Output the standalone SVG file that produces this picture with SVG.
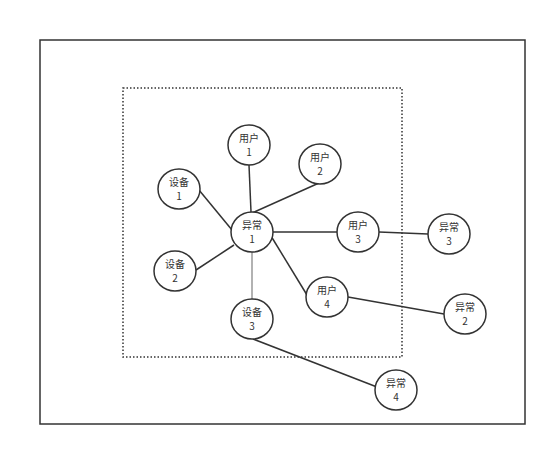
<svg xmlns="http://www.w3.org/2000/svg" width="550" height="449" viewBox="0 0 550 449">
<style>
.n ellipse{fill:#fff;stroke:#333;stroke-width:1.5}
.n text{font-family:"Noto Sans CJK SC","Noto Sans",sans-serif;font-size:10px;fill:#333;text-anchor:middle}
.e line{stroke:#333;stroke-width:1.5}
.e line.g{stroke:#999}
</style>
<rect width="550" height="449" fill="#fff"/>
<rect x="40" y="40" width="485" height="384" fill="none" stroke="#333" stroke-width="1.5"/>
<rect x="123" y="88" width="279" height="269" fill="none" stroke="#333" stroke-width="1.5" stroke-dasharray="1.5 2"/>
<g id="edges" class="e">
<line x1="249" y1="165" x2="251" y2="212"/>
<line x1="319" y1="183" x2="252" y2="213"/>
<line x1="199" y1="190" x2="232" y2="230"/>
<line x1="196" y1="270" x2="234" y2="245"/>
<line x1="273" y1="232" x2="337" y2="232"/>
<line x1="271" y1="236" x2="307" y2="295"/>
<line class="g" x1="252" y1="252" x2="252" y2="299"/>
<line x1="379" y1="232" x2="428" y2="234"/>
<line x1="348" y1="297" x2="444" y2="314"/>
<line x1="253" y1="339" x2="377" y2="387"/>
</g>
<g id="u1" class="n"><ellipse cx="249" cy="145" rx="21" ry="20"/><text x="249" y="141.5">用户<tspan x="249" dy="14.6">1</tspan></text></g>
<g id="u2" class="n"><ellipse cx="320" cy="164" rx="21" ry="20"/><text x="320" y="160.5">用户<tspan x="320" dy="14.6">2</tspan></text></g>
<g id="d1" class="n"><ellipse cx="179" cy="189" rx="21" ry="20"/><text x="179" y="185.5">设备<tspan x="179" dy="14.6">1</tspan></text></g>
<g id="a1" class="n"><ellipse cx="252" cy="232" rx="21" ry="20"/><text x="252" y="228.5">异常<tspan x="252" dy="14.6">1</tspan></text></g>
<g id="u3" class="n"><ellipse cx="358" cy="232" rx="21" ry="20"/><text x="358" y="228.5">用户<tspan x="358" dy="14.6">3</tspan></text></g>
<g id="a3" class="n"><ellipse cx="449" cy="234" rx="21" ry="20"/><text x="449" y="230.5">异常<tspan x="449" dy="14.6">3</tspan></text></g>
<g id="d2" class="n"><ellipse cx="175" cy="271" rx="21" ry="20"/><text x="175" y="267.5">设备<tspan x="175" dy="14.6">2</tspan></text></g>
<g id="u4" class="n"><ellipse cx="327" cy="297" rx="21" ry="20"/><text x="327" y="293.5">用户<tspan x="327" dy="14.6">4</tspan></text></g>
<g id="a2" class="n"><ellipse cx="465" cy="314" rx="21" ry="20"/><text x="465" y="310.5">异常<tspan x="465" dy="14.6">2</tspan></text></g>
<g id="d3" class="n"><ellipse cx="252" cy="319" rx="21" ry="20"/><text x="252" y="315.5">设备<tspan x="252" dy="14.6">3</tspan></text></g>
<g id="a4" class="n"><ellipse cx="396" cy="390" rx="21" ry="20"/><text x="396" y="386.5">异常<tspan x="396" dy="14.6">4</tspan></text></g>
</svg>
